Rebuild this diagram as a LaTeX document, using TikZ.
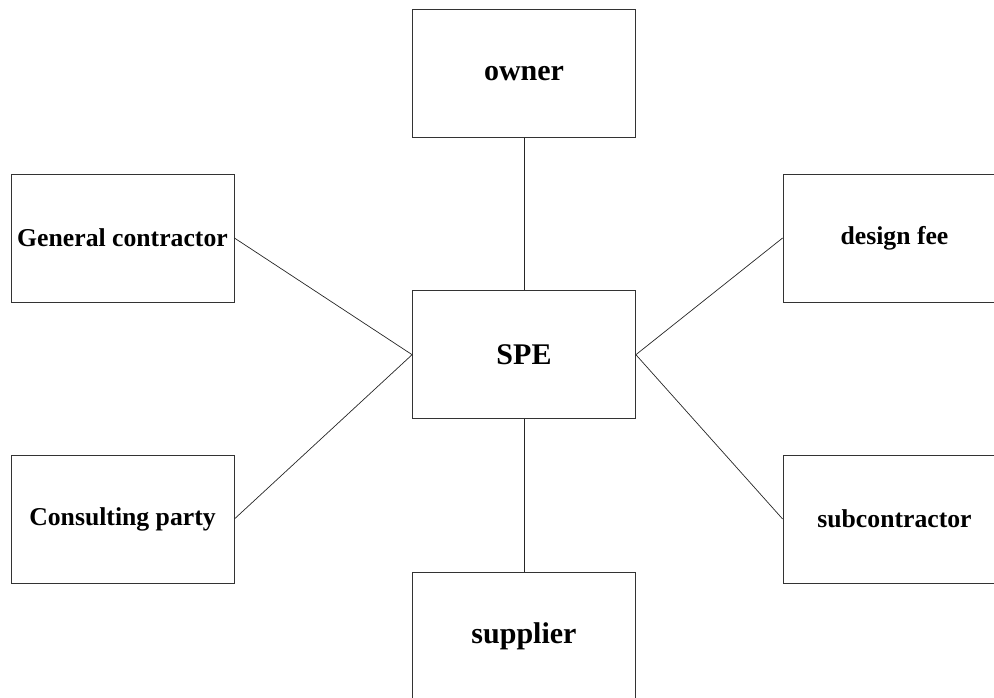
\documentclass[tikz,border=0pt]{standalone}
\usepackage{fontspec}
\setmainfont{Liberation Serif}

\begin{document}
\begin{tikzpicture}[x=1pt, y=1pt,
    party/.style={draw=black!80, line width=0.8pt, minimum width=223pt, minimum height=128pt,
        inner sep=0pt, font=\bfseries\fontsize{25.7}{30}\selectfont},
    core/.style={party, font=\bfseries\fontsize{30}{36}\selectfont},
    link/.style={draw=black!85, line width=0.7pt}]
    \useasboundingbox (0,0) rectangle (994,698);

    % Draw boxes
    \node[core]  (owner)    at (524,624.5) {owner};
    \node[core]  (spe)      at (524,343.3) {SPE};
    \node[core]  (supplier) at (524,62)    {supplier};
    \node[party] (gc)       at (122.5,460) {General contractor};
    \node[party] (cp)       at (122.5,179) {Consulting party};
    \node[party] (fee)      at (894.5,460) {design fee};
    \node[party] (sub)      at (894.5,179) {subcontractor};

    % Draw links
    \draw[link] (owner.south) -- (spe.north);
    \draw[link] (spe.south) -- (supplier.north);
    \draw[link] (gc.east) -- (spe.west);
    \draw[link] (cp.east) -- (spe.west);
    \draw[link] (fee.west) -- (spe.east);
    \draw[link] (sub.west) -- (spe.east);
\end{tikzpicture}
\end{document}
